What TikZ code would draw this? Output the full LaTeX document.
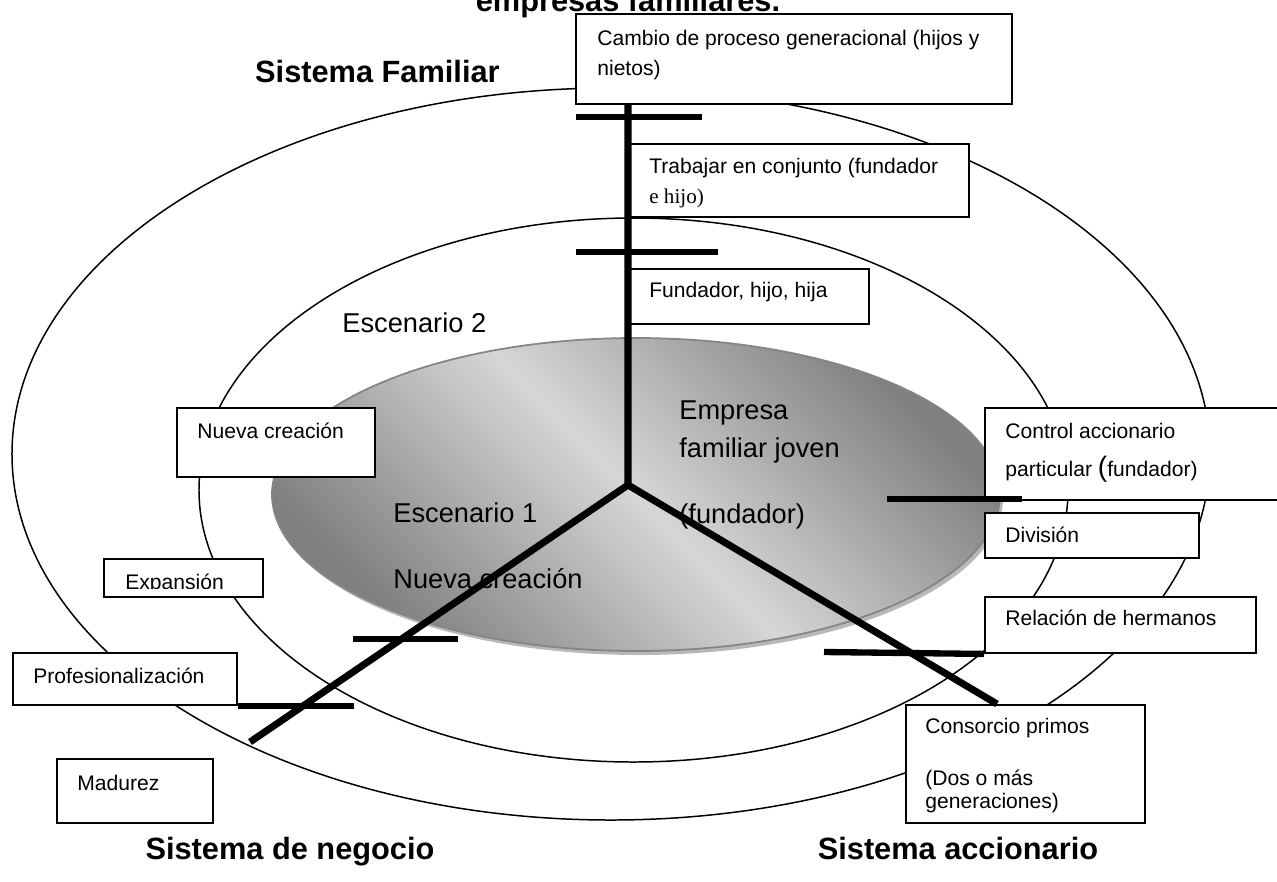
\documentclass[tikz,border=0pt]{standalone}
\usepackage{fontspec}
\setmainfont{Liberation Sans}
\newfontfamily\serifo{Liberation Serif}
\begin{document}
\begin{tikzpicture}[x=0.2mm,y=-0.2mm,
  caja/.style={draw,line width=1.1pt,fill=white,anchor=north west,inner sep=0pt},
  texto/.style={anchor=base west,inner sep=0pt,font=\fontsize{12}{14}\selectfont},
  sistema/.style={anchor=base,inner sep=0pt,font=\bfseries\fontsize{17.5}{20}\selectfont},
  escena/.style={anchor=base west,inner sep=0pt,font=\fontsize{15.5}{18}\selectfont},
  anillo/.style={line width=0.85pt},
  eje/.style={line width=4pt},
  marca/.style={line width=3.6pt}]
  \useasboundingbox (0,0) rectangle (1277,881);
  \clip (0,0) rectangle (1277,881);
  \draw[anillo] (611,454) ellipse [x radius=119.8mm,y radius=73.2mm];
  \draw[anillo] (633.5,490) ellipse [x radius=86.9mm,y radius=54.4mm];
  \fill[black!28] (639,498.5) ellipse [x radius=72.8mm,y radius=31.3mm];
  \shadedraw[top color=black!50,bottom color=black!50,middle color=black!16,shading angle=-45,draw=black!48,line width=1pt]
    (636,494.5) ellipse [x radius=72.8mm,y radius=31.3mm];

  \node[sistema] (titulo) at (628,11) {empresas familiares.};
  \node[sistema,anchor=base east] (familiar) at (500,82) {Sistema Familiar};
  \node[sistema] (negociotxt) at (290,859) {Sistema de negocio};
  \node[sistema] (accionariotxt) at (958,859) {Sistema accionario};

  \node[escena] (esc2) at (342,332) {Escenario 2};
  \node[escena] (empresa1) at (679,419) {Empresa};
  \node[escena] (empresa2) at (679,457) {familiar joven};
  \node[escena] (empresa3) at (679,523) {(fundador)};
  \node[escena] (esc1) at (393,522) {Escenario 1};
  \node[escena] (nuevatxt) at (393,588) {Nueva creación};

  \node[caja,minimum width=87.2mm,minimum height=18mm] (cambio) at (575,13) {};
  \node[texto] (cambio1) at ([shift={(22,32)}]cambio.north west) {Cambio de proceso generacional (hijos y};
  \node[texto] (cambio2) at ([shift={(22,62)}]cambio.north west) {nietos)};

  \node[caja,minimum width=68mm,minimum height=14.6mm] (trabajar) at (628,143) {};
  \node[texto] (trabajar1) at ([shift={(21,30)}]trabajar.north west) {Trabajar en conjunto (fundador};
  \node[texto] (trabajar2) at ([shift={(21,60)}]trabajar.north west) {\serifo e hijo)};

  \node[caja,minimum width=48mm,minimum height=11mm] (fundador) at (628,268) {};
  \node[texto] (fundador1) at ([shift={(21,29)}]fundador.north west) {Fundador, hijo, hija};

  \node[caja,minimum width=61.2mm,minimum height=18.4mm] (control) at (984,407) {};
  \node[texto] (control1) at ([shift={(21,31)}]control.north west) {Control accionario};
  \node[texto] (control2) at ([shift={(21,69)}]control.north west) {particular {\fontsize{16}{16}\selectfont(}fundador)};

  \node[caja,minimum width=42.8mm,minimum height=9mm] (division) at (984,512) {};
  \node[texto] (division1) at ([shift={(21,30)}]division.north west) {División};

  \node[caja,minimum width=54.2mm,minimum height=11.2mm] (relacion) at (984,596) {};
  \node[texto] (relacion1) at ([shift={(21,29)}]relacion.north west) {Relación de hermanos};

  \node[caja,minimum width=47.8mm,minimum height=23.6mm] (consorcio) at (905,704) {};
  \node[texto] (consorcio1) at ([shift={(20,29)}]consorcio.north west) {Consorcio primos};
  \node[texto] (consorcio2) at ([shift={(20,81)}]consorcio.north west) {(Dos o más};
  \begin{scope}
    \clip (consorcio.north west) rectangle ([shift={(0,-11)}]consorcio.south east);
    \node[texto] (consorcio3) at ([shift={(20,104)}]consorcio.north west) {generaciones)};
  \end{scope}

  \node[caja,minimum width=39.6mm,minimum height=13.8mm] (nueva) at (176,407) {};
  \node[texto] (nueva1) at ([shift={(21,31)}]nueva.north west) {Nueva creación};

  \node[caja,minimum width=31.8mm,minimum height=7.6mm] (expansion) at (103,558) {};
  \begin{scope}
    \clip (expansion.north west) rectangle ([shift={(0,-9)}]expansion.south east);
    \node[texto] (expansion1) at ([shift={(22,31)}]expansion.north west) {Expansión};
  \end{scope}

  \node[caja,minimum width=44.8mm,minimum height=10.4mm] (profes) at (12,652) {};
  \node[texto] (profes1) at ([shift={(21,31)}]profes.north west) {Profesionalización};

  \node[caja,minimum width=31.2mm,minimum height=12.8mm] (madurez) at (56,758) {};
  \node[texto] (madurez1) at ([shift={(21,32)}]madurez.north west) {Madurez};

  \coordinate (centro) at (628,485);
  \coordinate (negocio) at (250,742);
  \coordinate (acciones) at (997,704);
  \draw[eje,line join=round] (centro |- cambio.south) -- (centro) -- (negocio);
  \draw[eje] (centro) -- (acciones);

  \draw[marca] (576,117) -- (702,117);
  \draw[marca] (576,252) -- (718,252);
  \draw[marca] (353,639) -- (458,639);
  \draw[marca] (profes.south east) -- ++(116,0);
  \draw[marca] (887,499) -- (1022,499);
  \draw[marca] (824,652) -- (relacion.south west);
\end{tikzpicture}
\end{document}
